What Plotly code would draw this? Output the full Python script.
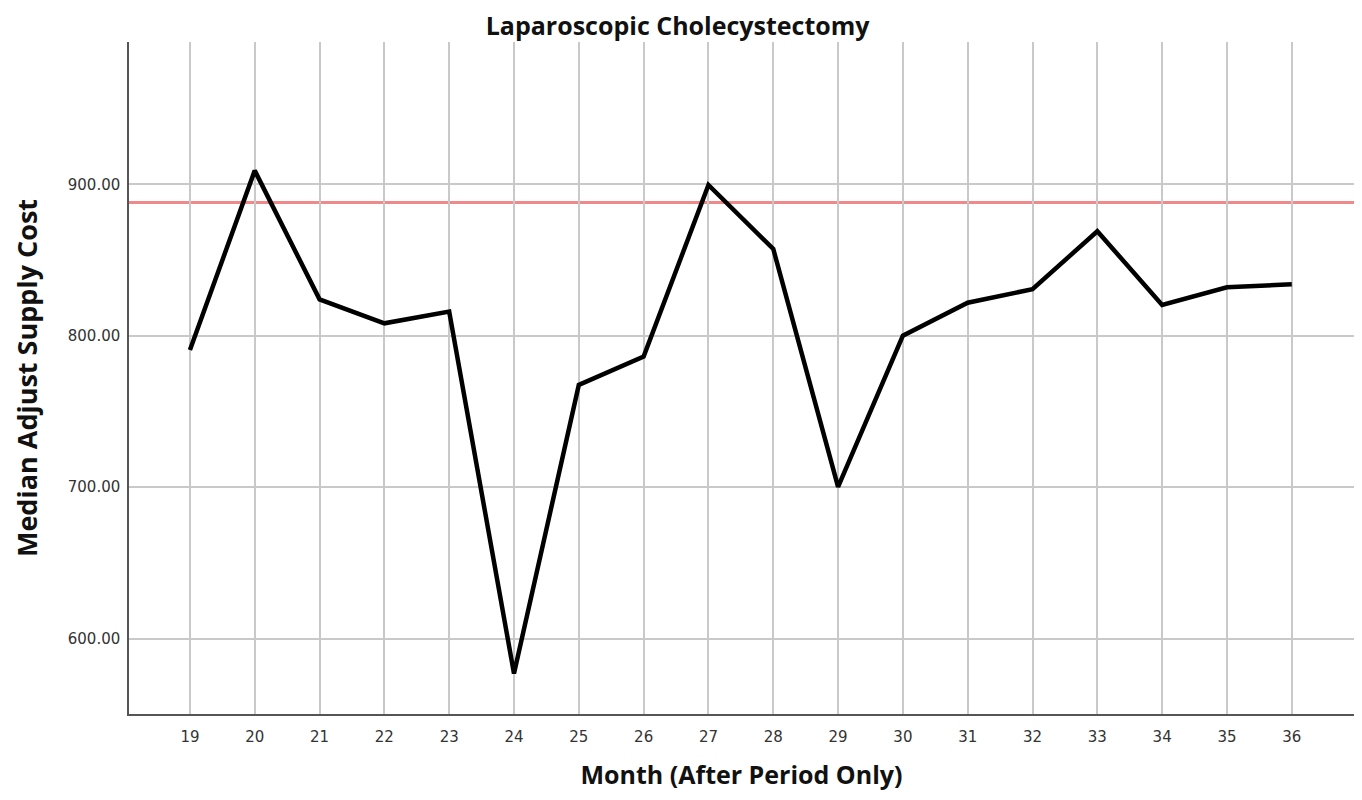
import plotly.graph_objects as go

months = list(range(19, 37))
median_cost = [790.6, 909.0, 824.0, 808.2, 815.9, 577.0, 767.5, 786.2, 899.5,
               857.3, 700.2, 800.0, 821.8, 830.7, 869.0, 820.3, 832.0, 834.0]
reference_cost = 888.0
y_ticks = [600, 700, 800, 900]
y_tick_labels = ["600.00", "700.00", "800.00", "900.00"]

TITLE_FONT = "Open Sans"
TICK_FONT = "DejaVu Sans"
FIG_H = 784

fig = go.Figure()
fig.add_trace(go.Scatter(
    x=months, y=median_cost, mode="lines",
    line=dict(color="black", width=4.5),
    showlegend=False, hoverinfo="x+y",
))
fig.add_hline(y=reference_cost, line=dict(color="#f08a8a", width=3), layer="below")

fig.update_layout(
    width=1346, height=FIG_H,
    margin=dict(l=121, r=0, t=34, b=78),
    plot_bgcolor="white", paper_bgcolor="white",
    title=dict(text="<b>Laparoscopic Cholecystectomy</b>", x=0.4975, xanchor="center",
               y=1 - 18.5 / FIG_H, yanchor="middle",
               font=dict(family=TITLE_FONT, size=25, color="#111")),
    font=dict(family=TICK_FONT, size=16, color="#333"),
)
fig.update_xaxes(
    range=[18.06, 36.96], tickvals=months, ticktext=[str(m) for m in months],
    showgrid=True, gridcolor="#c9c9c9", gridwidth=1.5,
    showline=True, linecolor="#555", linewidth=1.5, zeroline=False,
    ticks="outside", ticklen=8, tickcolor="rgba(0,0,0,0)",
    tickfont=dict(family=TICK_FONT, size=15, color="#333"),
    title=dict(text="<b>Month (After Period Only)</b>", standoff=22,
               font=dict(family=TITLE_FONT, size=25, color="#111")),
)
fig.update_yaxes(
    range=[550.3, 993.9], tickvals=y_ticks, ticktext=y_tick_labels,
    showgrid=True, gridcolor="#c9c9c9", gridwidth=1.5,
    showline=True, linecolor="#555", linewidth=1.5, zeroline=False,
    ticks="outside", ticklen=4, tickcolor="rgba(0,0,0,0)",
    tickfont=dict(family=TICK_FONT, size=15, color="#333"),
    title=dict(text="<b>Median Adjust Supply Cost</b>", standoff=28,
               font=dict(family=TITLE_FONT, size=27, color="#111")),
)

fig.write_html("out.html")
